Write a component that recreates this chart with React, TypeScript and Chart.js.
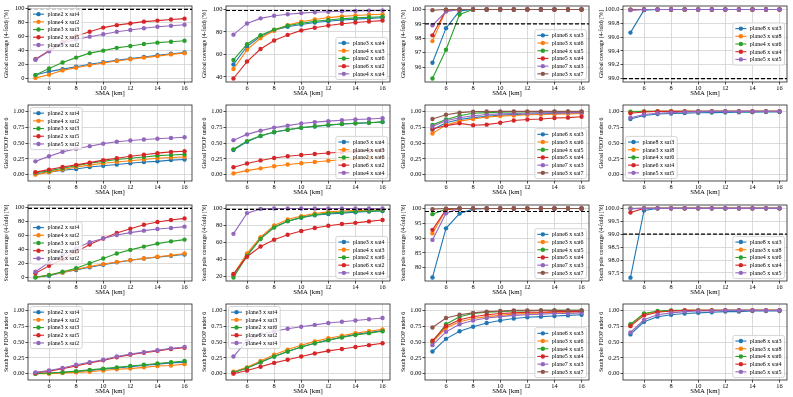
import React, { useEffect, useRef } from "react";
import { Chart, registerables } from "chart.js";
Chart.register(...registerables);

// ---------- data ----------
const sma = [5, 6, 7, 8, 9, 10, 11, 12, 13, 14, 15, 16];
const xTicks = [6, 8, 10, 12, 14, 16];

const labelsA = ["plane2 x sat4", "plane4 x sat2", "plane3 x sat3", "plane2 x sat5", "plane5 x sat2"];
const labelsB = ["plane3 x sat4", "plane4 x sat3", "plane2 x sat6", "plane6 x sat2", "plane4 x sat4"];
const labelsC = ["plane6 x sat3", "plane3 x sat6", "plane4 x sat5", "plane5 x sat4", "plane7 x sat3", "plane3 x sat7"];
const labelsD = ["plane8 x sat3", "plane3 x sat8", "plane4 x sat6", "plane6 x sat4", "plane5 x sat5"];

const titleGC = "Global coverage (4-fold) [%]";
const titleGP = "Global PDOP under 6";
const titleSC = "South pole coverage (4-fold) [%]";
const titleSP = "South pole PDOP under 6";
const xTitle = "SMA [km]";
const coverageTarget = 99;

// Global coverage
const gc1 = [
  [5, 10, 13.5, 17, 20.5, 23.4, 26, 28.5, 31, 33.5, 35.5, 37.4],
  [1, 5.6, 11.7, 15.4, 19, 22.4, 25.2, 27.6, 30, 32.2, 34.6, 36.4],
  [5, 14.5, 23, 30, 36.4, 40, 44, 46.7, 49.5, 51.4, 52.8, 54.2],
  [27.6, 40, 52, 61, 67, 73, 76.5, 79, 81.5, 83, 84.6, 85.8],
  [27, 39, 50.5, 56, 60, 63.5, 67, 69.6, 72, 74.3, 75.7, 77],
];
const gc2 = [
  [51, 67, 76, 81.5, 84.5, 86.6, 88.3, 89.5, 90.5, 91.3, 92, 92.6],
  [47, 64, 74.5, 81, 86, 89, 91, 92.7, 93.8, 94.6, 95.2, 95.6],
  [55, 69, 77, 82, 85.5, 87.7, 89.3, 90.6, 91.6, 92.4, 93, 93.5],
  [38.5, 53.6, 64.7, 72.3, 77.3, 81.3, 83.7, 85.7, 87.2, 88.3, 89.2, 90],
  [77.5, 87.5, 92, 94.3, 95.7, 96.7, 97.4, 97.9, 98.3, 98.6, 98.9, 99.1],
];
const gc3 = [
  [96.3, 98.7, 99.9, 100, 100, 100, 100, 100, 100, 100, 100, 100],
  [97.8, 99.95, 100, 100, 100, 100, 100, 100, 100, 100, 100, 100],
  [95.2, 97.2, 99.65, 100, 100, 100, 100, 100, 100, 100, 100, 100],
  [98.2, 99.95, 100, 100, 100, 100, 100, 100, 100, 100, 100, 100],
  [98.9, 99.85, 100, 100, 100, 100, 100, 100, 100, 100, 100, 100],
  [99.95, 100, 100, 100, 100, 100, 100, 100, 100, 100, 100, 100],
];
const gc4 = [
  [99.665, 99.99, 100, 100, 100, 100, 100, 100, 100, 100, 100, 100],
  [99.995, 100, 100, 100, 100, 100, 100, 100, 100, 100, 100, 100],
  [99.995, 100, 100, 100, 100, 100, 100, 100, 100, 100, 100, 100],
  [99.995, 100, 100, 100, 100, 100, 100, 100, 100, 100, 100, 100],
  [99.99, 100, 100, 100, 100, 100, 100, 100, 100, 100, 100, 100],
];

// Global PDOP
const gp1 = [
  [0.01, 0.04, 0.07, 0.09, 0.12, 0.14, 0.16, 0.18, 0.2, 0.21, 0.23, 0.24],
  [0.0, 0.04, 0.08, 0.12, 0.15, 0.18, 0.2, 0.22, 0.24, 0.26, 0.27, 0.28],
  [0.03, 0.06, 0.1, 0.14, 0.18, 0.21, 0.24, 0.26, 0.28, 0.3, 0.31, 0.32],
  [0.04, 0.08, 0.12, 0.155, 0.19, 0.23, 0.26, 0.29, 0.315, 0.34, 0.36, 0.37],
  [0.21, 0.29, 0.36, 0.41, 0.45, 0.49, 0.52, 0.54, 0.556, 0.567, 0.58, 0.59],
];
const gp2 = [
  [0.39, 0.52, 0.61, 0.67, 0.71, 0.74, 0.76, 0.78, 0.8, 0.81, 0.82, 0.83],
  [0.02, 0.064, 0.1, 0.134, 0.16, 0.18, 0.2, 0.22, 0.235, 0.25, 0.26, 0.27],
  [0.4, 0.53, 0.615, 0.674, 0.71, 0.743, 0.765, 0.786, 0.8, 0.813, 0.82, 0.834],
  [0.118, 0.176, 0.225, 0.262, 0.29, 0.31, 0.326, 0.342, 0.355, 0.367, 0.378, 0.388],
  [0.545, 0.636, 0.695, 0.743, 0.775, 0.807, 0.83, 0.845, 0.86, 0.87, 0.88, 0.89],
];
const gp3 = [
  [0.71, 0.82, 0.87, 0.9, 0.92, 0.94, 0.95, 0.955, 0.96, 0.965, 0.97, 0.97],
  [0.65, 0.786, 0.845, 0.88, 0.91, 0.925, 0.935, 0.945, 0.95, 0.955, 0.96, 0.965],
  [0.786, 0.87, 0.93, 0.97, 0.98, 0.985, 0.99, 0.99, 0.99, 0.995, 0.995, 0.995],
  [0.72, 0.775, 0.81, 0.78, 0.79, 0.82, 0.855, 0.87, 0.88, 0.895, 0.9, 0.915],
  [0.76, 0.85, 0.9, 0.93, 0.95, 0.96, 0.965, 0.97, 0.975, 0.98, 0.98, 0.98],
  [0.88, 0.946, 0.98, 0.995, 0.998, 1, 1, 1, 1, 1, 1, 1],
];
const gp4 = [
  [0.88, 0.935, 0.957, 0.965, 0.972, 0.977, 0.98, 0.983, 0.985, 0.987, 0.99, 0.99],
  [0.99, 1, 1, 1, 1, 1, 1, 1, 1, 1, 1, 1],
  [0.995, 1, 1, 1, 1, 1, 1, 1, 1, 1, 1, 1],
  [0.97, 0.99, 1, 1, 1, 1, 1, 1, 1, 1, 1, 1],
  [0.9, 0.95, 0.97, 0.98, 0.99, 0.995, 1, 1, 1, 1, 1, 1],
];

// South pole coverage
const sc1 = [
  [1, 3, 7.5, 11, 15, 18.5, 22, 25, 27.5, 29.5, 31.5, 33.2],
  [1, 4, 7.5, 12, 16, 19.5, 22.5, 25, 27.5, 30, 32, 34.6],
  [0.3, 3.8, 8.5, 13.7, 20.8, 27.5, 34.6, 39.8, 44.5, 48.8, 52, 54.5],
  [6.6, 17, 26.5, 37, 47.4, 56, 64, 70, 75.8, 79.6, 82.5, 84.8],
  [8.5, 22, 32, 42, 50.7, 56, 61, 64.5, 67.3, 69.7, 71, 73],
];
const sc2 = [
  [21.5, 45, 65, 78, 85, 89, 92, 93.5, 94.5, 95.5, 96.5, 97],
  [22, 47, 66, 80, 87, 91, 94, 96, 97, 97.5, 98, 98.5],
  [18.5, 44, 64, 77.5, 85, 89.5, 92.5, 94.5, 95.5, 96.5, 97, 97.5],
  [22.5, 43, 55, 63, 69, 73.3, 77, 79.6, 81.6, 83, 84.7, 86.3],
  [70, 94.5, 99.5, 100, 100, 100, 100, 100, 100, 100, 100, 100],
];
const sc3 = [
  [76.7, 93.3, 98.3, 99.8, 100, 100, 100, 100, 100, 100, 100, 100],
  [91.6, 99.6, 100, 100, 100, 100, 100, 100, 100, 100, 100, 100],
  [98.1, 99.8, 100, 100, 100, 100, 100, 100, 100, 100, 100, 100],
  [92.8, 99.7, 100, 100, 100, 100, 100, 100, 100, 100, 100, 100],
  [89.4, 98.4, 100, 100, 100, 100, 100, 100, 100, 100, 100, 100],
  [99.8, 100, 100, 100, 100, 100, 100, 100, 100, 100, 100, 100],
];
const sc4 = [
  [97.32, 99.92, 100, 100, 100, 100, 100, 100, 100, 100, 100, 100],
  [99.995, 100, 100, 100, 100, 100, 100, 100, 100, 100, 100, 100],
  [99.995, 100, 100, 100, 100, 100, 100, 100, 100, 100, 100, 100],
  [99.84, 100, 100, 100, 100, 100, 100, 100, 100, 100, 100, 100],
  [99.99, 100, 100, 100, 100, 100, 100, 100, 100, 100, 100, 100],
];

// South pole PDOP
const sp1 = [
  [0.0, 0.01, 0.02, 0.03, 0.05, 0.07, 0.09, 0.11, 0.13, 0.15, 0.17, 0.18],
  [0.0, 0.0, 0.01, 0.02, 0.03, 0.05, 0.07, 0.08, 0.1, 0.12, 0.13, 0.15],
  [0.0, 0.01, 0.02, 0.04, 0.06, 0.08, 0.1, 0.12, 0.14, 0.16, 0.18, 0.2],
  [0.01, 0.04, 0.08, 0.12, 0.17, 0.21, 0.26, 0.3, 0.33, 0.36, 0.39, 0.41],
  [0.02, 0.05, 0.09, 0.14, 0.18, 0.22, 0.27, 0.31, 0.34, 0.37, 0.4, 0.42],
];
const sp2 = [
  [0.02, 0.09, 0.18, 0.27, 0.35, 0.42, 0.48, 0.53, 0.58, 0.62, 0.65, 0.68],
  [0.03, 0.1, 0.2, 0.3, 0.38, 0.45, 0.51, 0.56, 0.6, 0.64, 0.67, 0.7],
  [0.02, 0.09, 0.18, 0.27, 0.35, 0.42, 0.48, 0.53, 0.57, 0.61, 0.64, 0.67],
  [0.0, 0.05, 0.11, 0.17, 0.22, 0.27, 0.32, 0.36, 0.39, 0.42, 0.45, 0.48],
  [0.27, 0.52, 0.62, 0.67, 0.71, 0.74, 0.77, 0.8, 0.82, 0.84, 0.86, 0.88],
];
const sp3 = [
  [0.35, 0.55, 0.67, 0.74, 0.8, 0.84, 0.87, 0.89, 0.9, 0.91, 0.92, 0.93],
  [0.5, 0.72, 0.82, 0.87, 0.9, 0.92, 0.94, 0.95, 0.96, 0.97, 0.97, 0.98],
  [0.5, 0.78, 0.9, 0.95, 0.97, 0.98, 0.99, 0.99, 1, 1, 1, 1],
  [0.52, 0.75, 0.85, 0.9, 0.93, 0.95, 0.96, 0.97, 0.97, 0.98, 0.98, 0.98],
  [0.45, 0.66, 0.78, 0.84, 0.88, 0.9, 0.92, 0.93, 0.94, 0.95, 0.95, 0.96],
  [0.73, 0.88, 0.93, 0.96, 0.98, 0.99, 1, 1, 1, 1, 1, 1],
];
const sp4 = [
  [0.62, 0.82, 0.9, 0.93, 0.95, 0.96, 0.97, 0.98, 0.98, 0.99, 0.99, 0.99],
  [0.77, 0.94, 0.98, 0.99, 1, 1, 1, 1, 1, 1, 1, 1],
  [0.78, 0.95, 0.99, 1, 1, 1, 1, 1, 1, 1, 1, 1],
  [0.75, 0.92, 0.97, 0.99, 1, 1, 1, 1, 1, 1, 1, 1],
  [0.65, 0.85, 0.93, 0.96, 0.98, 0.99, 0.99, 1, 1, 1, 1, 1],
];

// tick label arrays
const ticksPct = [0, 20, 40, 60, 80, 100];
const ticksGc2 = [40, 60, 80, 100];
const ticksGc3 = [96, 97, 98, 99, 100];
const ticksGc4 = [99.0, 99.2, 99.4, 99.6, 99.8, 100.0];
const ticksPdop = [0, 0.25, 0.5, 0.75, 1.0];
const ticksSc2 = [20, 40, 60, 80, 100];
const ticksSc3 = [80, 85, 90, 95, 100];
const ticksSc4 = [97.5, 98.0, 98.5, 99.0, 99.5, 100.0];

// ---------- styling ----------
const COLORS = ["#1f77b4", "#ff7f0e", "#2ca02c", "#d62728", "#9467bd", "#8c564b"];
const SERIF = '"Liberation Serif", "DejaVu Serif", serif';
const GRID = "#d2d2d2";
const CELL_W = 198;
const CELL_H = 99;

type PanelCfg = {
  series: number[][];
  labels: string[];
  yTitle: string;
  yMin: number;
  yMax: number;
  yTicks: number[];
  dec: number;
  loc: string;
  target: number | null;
};

const panels: PanelCfg[] = [
  { series: gc1, labels: labelsA, yTitle: titleGC, yMin: -4.9, yMax: 103.9, yTicks: ticksPct, dec: 0, loc: "ul", target: coverageTarget },
  { series: gc2, labels: labelsB, yTitle: titleGC, yMin: 35.4, yMax: 103, yTicks: ticksGc2, dec: 0, loc: "lr", target: coverageTarget },
  { series: gc3, labels: labelsC, yTitle: titleGC, yMin: 94.96, yMax: 100.24, yTicks: ticksGc3, dec: 0, loc: "lr", target: coverageTarget },
  { series: gc4, labels: labelsD, yTitle: titleGC, yMin: 98.95, yMax: 100.05, yTicks: ticksGc4, dec: 1, loc: "cr", target: coverageTarget },
  { series: gp1, labels: labelsA, yTitle: titleGP, yMin: -0.1, yMax: 1.1, yTicks: ticksPdop, dec: 2, loc: "ul", target: null },
  { series: gp2, labels: labelsB, yTitle: titleGP, yMin: -0.1, yMax: 1.1, yTicks: ticksPdop, dec: 2, loc: "lr", target: null },
  { series: gp3, labels: labelsC, yTitle: titleGP, yMin: -0.1, yMax: 1.1, yTicks: ticksPdop, dec: 2, loc: "lr", target: null },
  { series: gp4, labels: labelsD, yTitle: titleGP, yMin: -0.1, yMax: 1.1, yTicks: ticksPdop, dec: 2, loc: "ll", target: null },
  { series: sc1, labels: labelsA, yTitle: titleSC, yMin: -4.6, yMax: 103.9, yTicks: ticksPct, dec: 0, loc: "cl", target: coverageTarget },
  { series: sc2, labels: labelsB, yTitle: titleSC, yMin: 14.3, yMax: 104.1, yTicks: ticksSc2, dec: 0, loc: "lr", target: coverageTarget },
  { series: sc3, labels: labelsC, yTitle: titleSC, yMin: 75.5, yMax: 101.2, yTicks: ticksSc3, dec: 0, loc: "lr", target: coverageTarget },
  { series: sc4, labels: labelsD, yTitle: titleSC, yMin: 97.19, yMax: 100.13, yTicks: ticksSc4, dec: 1, loc: "lr", target: coverageTarget },
  { series: sp1, labels: labelsA, yTitle: titleSP, yMin: -0.1, yMax: 1.1, yTicks: ticksPdop, dec: 2, loc: "ul", target: null },
  { series: sp2, labels: labelsB, yTitle: titleSP, yMin: -0.1, yMax: 1.1, yTicks: ticksPdop, dec: 2, loc: "ul", target: null },
  { series: sp3, labels: labelsC, yTitle: titleSP, yMin: -0.1, yMax: 1.1, yTicks: ticksPdop, dec: 2, loc: "lr", target: null },
  { series: sp4, labels: labelsD, yTitle: titleSP, yMin: -0.1, yMax: 1.1, yTicks: ticksPdop, dec: 2, loc: "lr", target: null },
];

function drawLegend(chart: any, labels: string[], loc: string) {
  const ctx = chart.ctx as CanvasRenderingContext2D;
  const a = chart.chartArea;
  ctx.save();
  ctx.font = `6px ${SERIF}`;
  const tw = Math.max(...labels.map((l) => ctx.measureText(l).width));
  const padX = 2.5, handle = 11, gap = 3.5, rowH = 7.7, padY = 1.8, m = 2.5;
  const w = padX + handle + gap + tw + 3;
  const h = padY * 2 + rowH * labels.length;
  const x = loc[1] === "l" ? a.left + m : a.right - m - w;
  let y: number;
  if (loc[0] === "u") y = a.top + m;
  else if (loc[0] === "l") y = a.bottom - m - h;
  else y = (a.top + a.bottom) / 2 - h / 2;
  ctx.beginPath();
  (ctx as any).roundRect(x, y, w, h, 2);
  ctx.fillStyle = "rgba(255,255,255,0.8)";
  ctx.fill();
  ctx.strokeStyle = "#cccccc";
  ctx.lineWidth = 0.8;
  ctx.stroke();
  labels.forEach((l, i) => {
    const cy = y + padY + rowH * (i + 0.5);
    const c = COLORS[i];
    ctx.strokeStyle = c;
    ctx.lineWidth = 1.1;
    ctx.beginPath();
    ctx.moveTo(x + padX, cy);
    ctx.lineTo(x + padX + handle, cy);
    ctx.stroke();
    ctx.fillStyle = c;
    ctx.beginPath();
    ctx.arc(x + padX + handle / 2, cy, 2.2, 0, Math.PI * 2);
    ctx.fill();
    ctx.fillStyle = "#000";
    ctx.textBaseline = "middle";
    ctx.textAlign = "left";
    ctx.fillText(l, x + padX + handle + gap, cy + 0.3);
  });
  ctx.restore();
}

function Panel({ cfg, left, top }: { cfg: PanelCfg; left: number; top: number }) {
  const ref = useRef<HTMLCanvasElement | null>(null);
  useEffect(() => {
    if (!ref.current) return;
    const deco = {
      id: "deco",
      afterDatasetsDraw(chart: any) {
        if (cfg.target === null) return;
        const ctx = chart.ctx as CanvasRenderingContext2D;
        const a = chart.chartArea;
        const yy = chart.scales.y.getPixelForValue(cfg.target);
        ctx.save();
        ctx.strokeStyle = "#000";
        ctx.lineWidth = 1.2;
        ctx.setLineDash([4, 2]);
        ctx.beginPath();
        ctx.moveTo(a.left, yy);
        ctx.lineTo(a.right, yy);
        ctx.stroke();
        ctx.restore();
      },
      afterDraw(chart: any) {
        const ctx = chart.ctx as CanvasRenderingContext2D;
        const a = chart.chartArea;
        ctx.save();
        ctx.strokeStyle = "#222";
        ctx.lineWidth = 0.8;
        ctx.strokeRect(a.left, a.top, a.right - a.left, a.bottom - a.top);
        ctx.restore();
        drawLegend(chart, cfg.labels, cfg.loc);
      },
    };
    const tickFont = { family: SERIF, size: 6.4 };
    const chart = new Chart(ref.current, {
      type: "line",
      data: {
        datasets: cfg.series.map((ys, i) => ({
          label: cfg.labels[i],
          data: sma.map((x, j) => ({ x, y: ys[j] })),
          borderColor: COLORS[i],
          backgroundColor: COLORS[i],
          pointBackgroundColor: COLORS[i],
          pointBorderColor: COLORS[i],
          pointRadius: 2.2,
          pointBorderWidth: 0,
          borderWidth: 1.1,
          tension: 0,
          order: -i,
        })),
      },
      options: {
        animation: false,
        responsive: false,
        devicePixelRatio: 1,
        events: [],
        layout: { padding: { left: 0, right: 6, top: 6, bottom: 0 } },
        plugins: { legend: { display: false }, tooltip: { enabled: false } },
        scales: {
          x: {
            type: "linear",
            min: 4.45,
            max: 16.55,
            afterBuildTicks: (s: any) => {
              s.ticks = xTicks.map((v) => ({ value: v }));
            },
            afterFit: (s: any) => {
              s.height = 17;
            },
            ticks: {
              font: tickFont,
              color: "#000",
              padding: 0,
              maxRotation: 0,
              autoSkip: false,
              callback: (v: any) => String(v),
            },
            grid: { color: GRID, lineWidth: 0.8, tickLength: 2.5, tickColor: "#000", tickWidth: 0.7 },
            border: { display: false },
            title: {
              display: true,
              text: xTitle,
              font: { family: SERIF, size: 6.8 },
              color: "#000",
              padding: { top: 0, bottom: 1.5 },
            },
          },
          y: {
            type: "linear",
            min: cfg.yMin,
            max: cfg.yMax,
            afterBuildTicks: (s: any) => {
              s.ticks = cfg.yTicks.map((v) => ({ value: v }));
            },
            afterFit: (s: any) => {
              s.width = 28;
            },
            ticks: {
              font: tickFont,
              color: "#000",
              padding: 1,
              autoSkip: false,
              callback: (v: any) => Number(v).toFixed(cfg.dec),
            },
            grid: { color: GRID, lineWidth: 0.8, tickLength: 2.5, tickColor: "#000", tickWidth: 0.7 },
            border: { display: false },
            title: {
              display: true,
              text: cfg.yTitle,
              font: { family: SERIF, size: 5.8 },
              color: "#000",
              padding: { top: 3.3, bottom: 0 },
            },
          },
        },
      } as any,
      plugins: [deco],
    });
    return () => chart.destroy();
  }, [cfg]);
  return (
    <canvas
      ref={ref}
      width={CELL_W}
      height={CELL_H}
      style={{ position: "absolute", left, top, width: CELL_W, height: CELL_H }}
    />
  );
}

export default function App() {
  return (
    <div style={{ position: "absolute", left: 0, top: 0, width: 793, height: 397, background: "#fff" }}>
      {panels.map((p, i) => {
        const col = i % 4;
        const row = Math.floor(i / 4);
        return (
          <Panel
            key={i}
            cfg={p}
            left={Math.round((col * 793) / 4)}
            top={Math.round((row * 397) / 4)}
          />
        );
      })}
    </div>
  );
}
